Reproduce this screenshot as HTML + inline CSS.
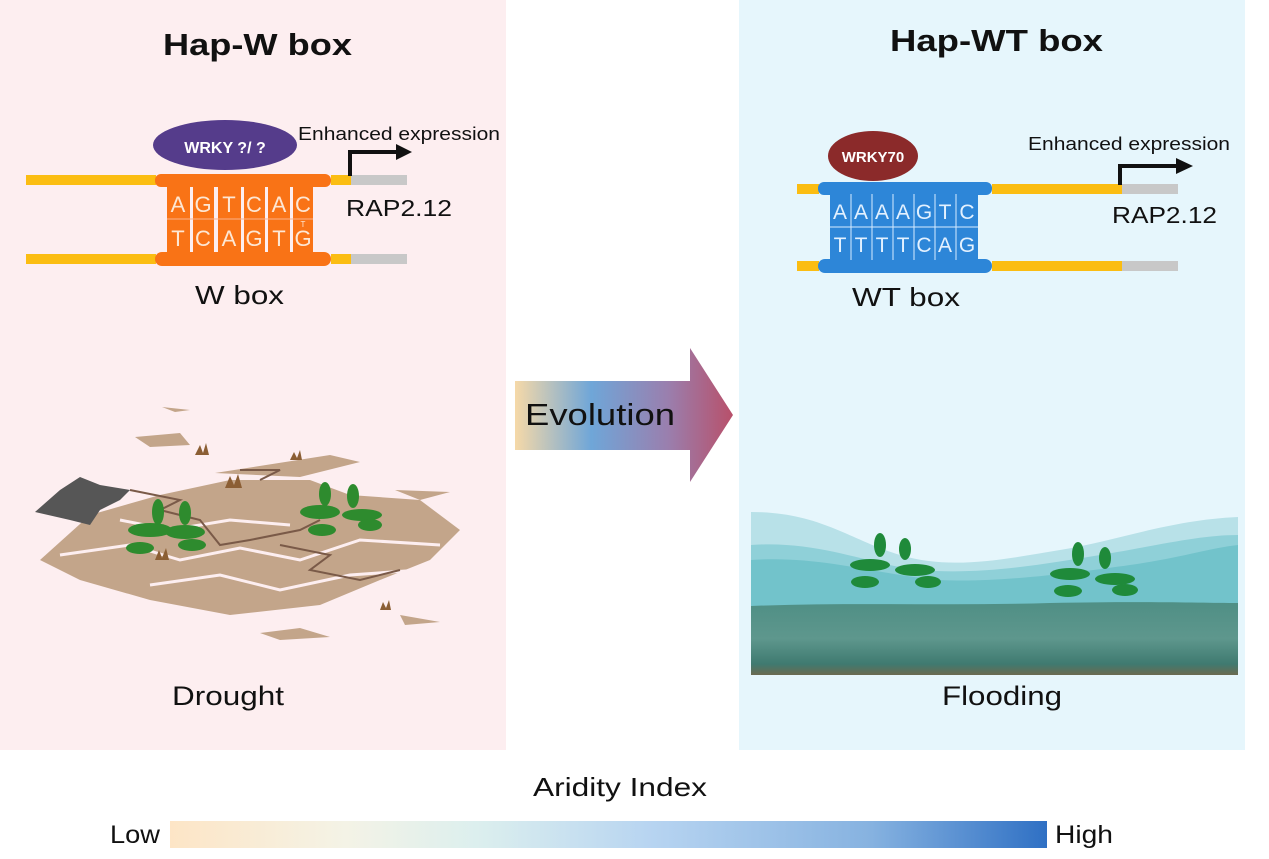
<!DOCTYPE html>
<html><head><meta charset="utf-8"><style>
html,body{margin:0;padding:0;background:#fff;}
svg{display:block;font-family:"Liberation Sans",Arial,sans-serif;}
</style></head><body>
<svg width="1269" height="859" viewBox="0 0 1269 859" xmlns="http://www.w3.org/2000/svg">
<defs>
<linearGradient id="evo" x1="0" x2="1" y1="0" y2="0">
<stop offset="0" stop-color="#f6d9a8"/><stop offset="0.35" stop-color="#6fa6d8"/><stop offset="0.7" stop-color="#9a7fae"/><stop offset="1" stop-color="#b8506a"/>
</linearGradient>
<linearGradient id="ari" x1="0" x2="1" y1="0" y2="0">
<stop offset="0" stop-color="#fde5c6"/><stop offset="0.2" stop-color="#f4f3e6"/><stop offset="0.35" stop-color="#dcefee"/><stop offset="0.55" stop-color="#b7d4f1"/><stop offset="0.8" stop-color="#86b2e0"/><stop offset="1" stop-color="#2f70c4"/>
</linearGradient>
<linearGradient id="gnd" x1="0" x2="0" y1="0" y2="1">
<stop offset="0" stop-color="#4f8f85"/><stop offset="0.5" stop-color="#5e978d"/><stop offset="0.85" stop-color="#3f7a70"/><stop offset="1" stop-color="#6b6a50"/>
</linearGradient>
</defs>
<rect x="0" y="0" width="506" height="750" fill="#fdeef0"/>
<rect x="739" y="0" width="506" height="750" fill="#e6f6fc"/>

<text x="163" y="55" font-size="31" font-weight="bold" fill="#111" textLength="189" lengthAdjust="spacingAndGlyphs">Hap-W box</text>
<text x="890" y="51" font-size="31" font-weight="bold" fill="#111" textLength="213" lengthAdjust="spacingAndGlyphs">Hap-WT box</text>

<!-- Left DNA -->
<rect x="26" y="175" width="130" height="10" fill="#fbbd12"/>
<rect x="26" y="254" width="130" height="10" fill="#fbbd12"/>
<rect x="331" y="175" width="20" height="10" fill="#fbbd12"/>
<rect x="351" y="175" width="56" height="10" fill="#c8c8c8"/>
<rect x="331" y="254" width="20" height="10" fill="#fbbd12"/>
<rect x="351" y="254" width="56" height="10" fill="#c8c8c8"/>
<rect x="155" y="174" width="176" height="13" rx="6" fill="#f97316"/>
<rect x="155" y="252" width="176" height="14" rx="7" fill="#f97316"/>
<g fill="#f97316">
<rect x="167" y="186" width="23" height="67"/><rect x="193" y="186" width="21" height="67"/><rect x="218" y="186" width="23" height="67"/><rect x="244" y="186" width="21" height="67"/><rect x="268" y="186" width="22" height="67"/><rect x="293" y="186" width="20" height="67"/>
</g>
<line x1="167" y1="219" x2="313" y2="219" stroke="#fbb08a" stroke-width="1"/>
<g font-size="22" fill="#fde7d4" text-anchor="middle">
<text x="178" y="212">A</text><text x="203" y="212">G</text><text x="229" y="212">T</text><text x="254" y="212">C</text><text x="279" y="212">A</text><text x="303" y="212">C</text>
<text x="178" y="246">T</text><text x="203" y="246">C</text><text x="229" y="246">A</text><text x="254" y="246">G</text><text x="279" y="246">T</text><text x="303" y="246">G</text>
<text x="303" y="227" font-size="8">T</text>
</g>
<ellipse cx="225" cy="145" rx="72" ry="25" fill="#553c8b"/>
<text x="225" y="153" font-size="16" font-weight="bold" fill="#fff" text-anchor="middle">WRKY ?/ ?</text>
<path d="M350 176 V152 H398" stroke="#111" stroke-width="4" fill="none"/>
<path d="M396 144 L412 152 L396 160 Z" fill="#111"/>
<text x="298" y="140" font-size="18" fill="#111" textLength="202" lengthAdjust="spacingAndGlyphs">Enhanced expression</text>
<text x="346" y="216" font-size="23" fill="#111" textLength="106" lengthAdjust="spacingAndGlyphs">RAP2.12</text>
<text x="195" y="304" font-size="26" fill="#111" textLength="89" lengthAdjust="spacingAndGlyphs">W box</text>

<!-- Right DNA -->
<rect x="797" y="184" width="22" height="10" fill="#fbbd12"/>
<rect x="797" y="261" width="22" height="10" fill="#fbbd12"/>
<rect x="992" y="184" width="130" height="10" fill="#fbbd12"/>
<rect x="1122" y="184" width="56" height="10" fill="#c8c8c8"/>
<rect x="992" y="261" width="130" height="10" fill="#fbbd12"/>
<rect x="1122" y="261" width="56" height="10" fill="#c8c8c8"/>
<rect x="818" y="182" width="174" height="13" rx="6" fill="#2d86d8"/>
<rect x="818" y="259" width="174" height="14" rx="7" fill="#2d86d8"/>
<rect x="830" y="194" width="148" height="66" fill="#2d86d8"/>
<g stroke="#d6ecff" stroke-width="1">
<line x1="830" y1="227" x2="978" y2="227"/>
<line x1="851" y1="194" x2="851" y2="260"/><line x1="872" y1="194" x2="872" y2="260"/><line x1="893" y1="194" x2="893" y2="260"/><line x1="914" y1="194" x2="914" y2="260"/><line x1="935" y1="194" x2="935" y2="260"/><line x1="956" y1="194" x2="956" y2="260"/>
</g>
<g font-size="21" fill="#e3f1ff" text-anchor="middle">
<text x="840" y="219">A</text><text x="861" y="219">A</text><text x="882" y="219">A</text><text x="903" y="219">A</text><text x="924" y="219">G</text><text x="945" y="219">T</text><text x="967" y="219">C</text>
<text x="840" y="252">T</text><text x="861" y="252">T</text><text x="882" y="252">T</text><text x="903" y="252">T</text><text x="924" y="252">C</text><text x="945" y="252">A</text><text x="967" y="252">G</text>
</g>
<ellipse cx="873" cy="156" rx="45" ry="25" fill="#8b2a2a"/>
<text x="873" y="162" font-size="15" font-weight="bold" fill="#fff" text-anchor="middle">WRKY70</text>
<path d="M1120 185 V166 H1178" stroke="#111" stroke-width="4" fill="none"/>
<path d="M1176 158 L1193 166 L1176 174 Z" fill="#111"/>
<text x="1028" y="150" font-size="18" fill="#111" textLength="202" lengthAdjust="spacingAndGlyphs">Enhanced expression</text>
<text x="1112" y="223" font-size="23" fill="#111" textLength="105" lengthAdjust="spacingAndGlyphs">RAP2.12</text>
<text x="852" y="306" font-size="26" fill="#111" textLength="108" lengthAdjust="spacingAndGlyphs">WT box</text>

<!-- Evolution arrow -->
<path d="M515 381 H690 V348 L733 415 L690 482 V450 H515 Z" fill="url(#evo)"/>
<text x="525" y="425" font-size="31" fill="#111" textLength="150" lengthAdjust="spacingAndGlyphs">Evolution</text>

<!-- Drought -->
<g fill="#c3a58a">
<path d="M40 560 L90 515 L160 495 L230 480 L310 480 L350 495 L420 500 L460 530 L430 560 L380 580 L320 605 L230 615 L150 600 L80 580 Z"/>
<path d="M135 437 L180 433 L190 445 L150 447 Z"/>
<path d="M215 473 L330 455 L360 462 L300 477 Z"/>
<path d="M162 407 L190 410 L175 412 Z"/>
<path d="M395 490 L450 492 L420 500 Z"/>
<path d="M260 633 L300 628 L330 637 L280 640 Z"/>
<path d="M400 615 L440 622 L405 625 Z"/>
</g>
<g stroke="#fdeef0" stroke-width="3" fill="none">
<path d="M60 555 L130 545 L180 560 L240 548 L300 560 L360 540 L440 545"/>
<path d="M120 520 L170 530 L230 520 L290 525"/>
<path d="M150 585 L220 575 L280 590 L350 575 L420 570"/>
</g>
<g stroke="#7a5a48" stroke-width="2" fill="none">
<path d="M130 490 L180 500 L160 510 L200 520 L220 545 L250 540 L300 530 L320 520"/>
<path d="M280 545 L330 555 L310 570 L360 580 L400 570"/>
<path d="M240 470 L280 470 L260 480"/>
</g>
<path d="M35 512 L60 490 L80 477 L100 485 L130 490 L120 500 L100 510 L90 525 L70 520 Z" fill="#565656"/>
<g fill="#2e8b2e">
<ellipse cx="150" cy="530" rx="22" ry="7"/><ellipse cx="185" cy="532" rx="20" ry="7"/><ellipse cx="140" cy="548" rx="14" ry="6"/><ellipse cx="192" cy="545" rx="14" ry="6"/><ellipse cx="158" cy="512" rx="6" ry="13"/><ellipse cx="185" cy="513" rx="6" ry="12"/>
<ellipse cx="320" cy="512" rx="20" ry="7"/><ellipse cx="362" cy="515" rx="20" ry="6"/><ellipse cx="322" cy="530" rx="14" ry="6"/><ellipse cx="370" cy="525" rx="12" ry="6"/><ellipse cx="325" cy="494" rx="6" ry="12"/><ellipse cx="353" cy="496" rx="6" ry="12"/>
</g>
<g fill="#8b5e34"><path d="M195 455 l5 -10 l3 8 l3 -10 l3 12 Z"/><path d="M225 488 l5 -12 l4 9 l4 -11 l4 14 Z"/><path d="M155 560 l4 -10 l3 8 l4 -10 l3 12Z"/><path d="M290 460 l4 -8 l3 6 l3 -8 l2 10Z"/><path d="M380 610 l3 -8 l3 6 l3 -8 l2 10Z"/></g>
<text x="172" y="705" font-size="27" fill="#111" textLength="112" lengthAdjust="spacingAndGlyphs">Drought</text>

<!-- Flooding -->
<path d="M751 512 C820 512 850 540 900 555 C950 570 1000 560 1060 550 C1120 540 1170 520 1238 517 V675 H751 Z" fill="#b8e1e8"/>
<path d="M751 545 C820 540 870 565 920 570 C980 575 1040 565 1100 555 C1160 545 1200 535 1238 535 V675 H751 Z" fill="#8fd0d8"/>
<path d="M751 560 C820 555 880 575 940 580 C1000 583 1080 572 1130 565 C1180 558 1210 548 1238 545 V675 H751 Z" fill="#72c3cb"/>
<path d="M751 606 C850 602 950 606 1050 603 C1150 601 1200 603 1238 603 V675 H751 Z" fill="url(#gnd)"/>
<g fill="#1f8a3a">
<ellipse cx="870" cy="565" rx="20" ry="6"/><ellipse cx="915" cy="570" rx="20" ry="6"/><ellipse cx="865" cy="582" rx="14" ry="6"/><ellipse cx="928" cy="582" rx="13" ry="6"/><ellipse cx="880" cy="545" rx="6" ry="12"/><ellipse cx="905" cy="549" rx="6" ry="11"/>
<ellipse cx="1070" cy="574" rx="20" ry="6"/><ellipse cx="1115" cy="579" rx="20" ry="6"/><ellipse cx="1068" cy="591" rx="14" ry="6"/><ellipse cx="1125" cy="590" rx="13" ry="6"/><ellipse cx="1078" cy="554" rx="6" ry="12"/><ellipse cx="1105" cy="558" rx="6" ry="11"/>
</g>
<text x="942" y="705" font-size="27" fill="#111" textLength="120" lengthAdjust="spacingAndGlyphs">Flooding</text>

<!-- Aridity -->
<text x="533" y="796" font-size="26" fill="#111" textLength="174" lengthAdjust="spacingAndGlyphs">Aridity Index</text>
<rect x="170" y="821" width="877" height="27" fill="url(#ari)"/>
<text x="110" y="843" font-size="25" fill="#111" textLength="50" lengthAdjust="spacingAndGlyphs">Low</text>
<text x="1055" y="843" font-size="25" fill="#111" textLength="58" lengthAdjust="spacingAndGlyphs">High</text>
</svg>
</body></html>
